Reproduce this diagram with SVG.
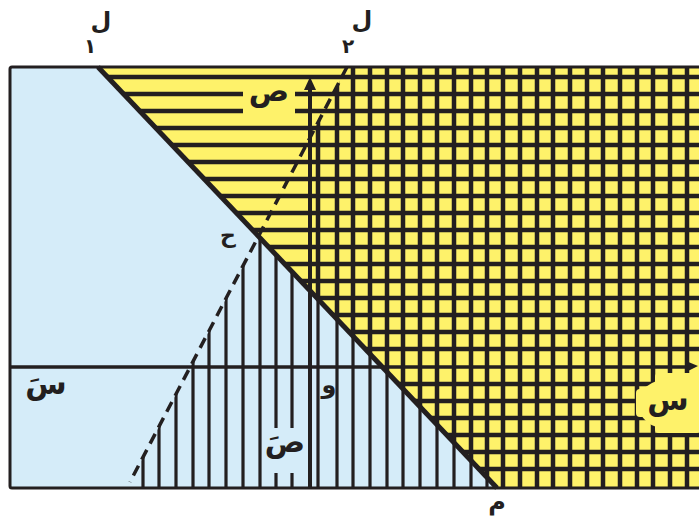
<svg xmlns="http://www.w3.org/2000/svg" width="699" height="527" viewBox="0 0 699 527">
<style>
.ink{stroke:#231f20;fill:none;stroke-linecap:butt}
.hy{stroke:#231f20;stroke-width:4.5}
.hb{stroke:#231f20;stroke-width:3.2}
.lbl{font-family:"DejaVu Sans","Noto Sans",sans-serif;font-weight:bold;fill:#231f20;text-anchor:middle}
</style>
<defs>
<clipPath id="yellowClip"><polygon points="98,67 720,67 720,488 497,488"/></clipPath>
<clipPath id="blueClip"><polygon points="8,67 98,67 497,488 8,488"/></clipPath>
<clipPath id="rightL2"><polygon points="350.7,60 720,60 720,495 123.1,495"/></clipPath>
<clipPath id="frameClip"><rect x="10" y="67" width="710" height="421"/></clipPath>
</defs>
<rect width="699" height="527" fill="#ffffff"/>

<g id="regions">
<polygon points="10,67 98,67 497,488 10,488" fill="#d5ecf9"/>
<polygon points="98,67 720,67 720,488 497,488" fill="#fef26a"/>
</g>

<g id="hatching" clip-path="url(#frameClip)">
<g clip-path="url(#yellowClip)" class="hy">
<line x1="90" y1="77" x2="720" y2="77"/>
<line x1="90" y1="94" x2="243" y2="94"/><line x1="295" y1="94" x2="720" y2="94"/>
<line x1="90" y1="111" x2="243" y2="111"/><line x1="295" y1="111" x2="720" y2="111"/>
<line x1="90" y1="128" x2="720" y2="128"/>
<line x1="90" y1="145" x2="720" y2="145"/>
<line x1="90" y1="162" x2="720" y2="162"/>
<line x1="90" y1="179" x2="720" y2="179"/>
<line x1="90" y1="196" x2="720" y2="196"/>
<line x1="90" y1="213" x2="720" y2="213"/>
<line x1="90" y1="230" x2="720" y2="230"/>
<line x1="90" y1="247" x2="720" y2="247"/>
<line x1="90" y1="264" x2="720" y2="264"/>
<line x1="90" y1="281" x2="720" y2="281"/>
<line x1="90" y1="298" x2="720" y2="298"/>
<line x1="90" y1="315" x2="720" y2="315"/>
<line x1="90" y1="332" x2="720" y2="332"/>
<line x1="90" y1="349" x2="720" y2="349"/>
<line x1="90" y1="384" x2="720" y2="384"/>
<line x1="90" y1="401" x2="720" y2="401"/>
<line x1="90" y1="418" x2="720" y2="418"/>
<line x1="90" y1="435" x2="720" y2="435"/>
<line x1="90" y1="452" x2="720" y2="452"/>
<line x1="90" y1="469" x2="720" y2="469"/>
</g>
<g clip-path="url(#rightL2)">
<g clip-path="url(#yellowClip)" class="hy">
<line x1="318" y1="60" x2="318" y2="490"/>
<line x1="337" y1="60" x2="337" y2="490"/>
<line x1="353" y1="60" x2="353" y2="490"/>
<line x1="370" y1="60" x2="370" y2="490"/>
<line x1="387" y1="60" x2="387" y2="490"/>
<line x1="403" y1="60" x2="403" y2="490"/>
<line x1="420" y1="60" x2="420" y2="490"/>
<line x1="437" y1="60" x2="437" y2="490"/>
<line x1="454" y1="60" x2="454" y2="490"/>
<line x1="471" y1="60" x2="471" y2="490"/>
<line x1="487" y1="60" x2="487" y2="490"/>
<line x1="503" y1="60" x2="503" y2="490"/>
<line x1="520" y1="60" x2="520" y2="490"/>
<line x1="537" y1="60" x2="537" y2="490"/>
<line x1="553" y1="60" x2="553" y2="490"/>
<line x1="570" y1="60" x2="570" y2="490"/>
<line x1="587" y1="60" x2="587" y2="490"/>
<line x1="603" y1="60" x2="603" y2="490"/>
<line x1="620" y1="60" x2="620" y2="490"/>
<line x1="637" y1="60" x2="637" y2="490"/>
<line x1="653" y1="60" x2="653" y2="490"/>
<line x1="670" y1="60" x2="670" y2="490"/>
<line x1="687" y1="60" x2="687" y2="490"/>
</g>
<g clip-path="url(#blueClip)" class="hb">
<line x1="143" y1="60" x2="143" y2="490"/>
<line x1="159" y1="60" x2="159" y2="490"/>
<line x1="176" y1="60" x2="176" y2="490"/>
<line x1="193" y1="60" x2="193" y2="490"/>
<line x1="209" y1="60" x2="209" y2="490"/>
<line x1="226" y1="60" x2="226" y2="490"/>
<line x1="243" y1="60" x2="243" y2="490"/>
<line x1="260" y1="60" x2="260" y2="490"/>
<line x1="276" y1="60" x2="276" y2="428"/><line x1="276" y1="473" x2="276" y2="490"/>
<line x1="292" y1="60" x2="292" y2="428"/><line x1="292" y1="473" x2="292" y2="490"/>
<line x1="318" y1="60" x2="318" y2="490"/>
<line x1="337" y1="60" x2="337" y2="490"/>
<line x1="353" y1="60" x2="353" y2="490"/>
<line x1="370" y1="60" x2="370" y2="490"/>
<line x1="387" y1="60" x2="387" y2="490"/>
<line x1="403" y1="60" x2="403" y2="490"/>
<line x1="420" y1="60" x2="420" y2="490"/>
<line x1="437" y1="60" x2="437" y2="490"/>
<line x1="454" y1="60" x2="454" y2="490"/>
<line x1="471" y1="60" x2="471" y2="490"/>
<line x1="487" y1="60" x2="487" y2="490"/>
</g>
</g>
<g fill="#fef26a">
<ellipse cx="668" cy="404" rx="30" ry="25"/>
<rect x="636" y="389" width="64" height="28" rx="4"/>
<rect x="655" y="373" width="45" height="60" rx="4"/>
</g>
</g>

<g id="connectors">
<path class="ink" stroke-width="3" d="M720,67 H12 Q10,67 10,69 V486 Q10,488 12,488 H720"/>
<line class="ink" stroke-width="3.5" x1="10" y1="367" x2="690" y2="367"/>
<path d="M686,361 L698,366 L686,372 Z" fill="#231f20"/>
<line class="ink" stroke-width="4" x1="310" y1="84" x2="310" y2="488"/>
<path d="M304,90 L310,77 L316,90 Z" fill="#231f20"/>
<line class="ink" stroke-width="5" x1="98" y1="67" x2="497" y2="488"/>
<line class="ink" stroke-width="3.5" stroke-dasharray="11 7" x1="347" y1="67" x2="130" y2="482"/>
</g>

<g id="labels" class="lbl">
<text id="label-L1" x="101" y="29" font-size="24">ل</text>
<text id="label-L1-sub" x="90" y="53" font-size="20">١</text>
<text id="label-L2" x="362" y="28" font-size="24">ل</text>
<text id="label-L2-sub" x="348" y="53" font-size="20">٢</text>
<text id="label-y" x="269" y="101" font-size="30">ص</text>
<text id="label-h" x="228" y="243" font-size="22">ح</text>
<text id="label-xneg" x="46" y="394" font-size="30">سَ</text>
<text id="label-yneg" x="285" y="452" font-size="30">صَ</text>
<text id="label-o" x="329" y="393" font-size="24">و</text>
<text id="label-x" x="668" y="410" font-size="30">س</text>
<text id="label-m" x="497" y="510" font-size="24">م</text>
</g>
</svg>
